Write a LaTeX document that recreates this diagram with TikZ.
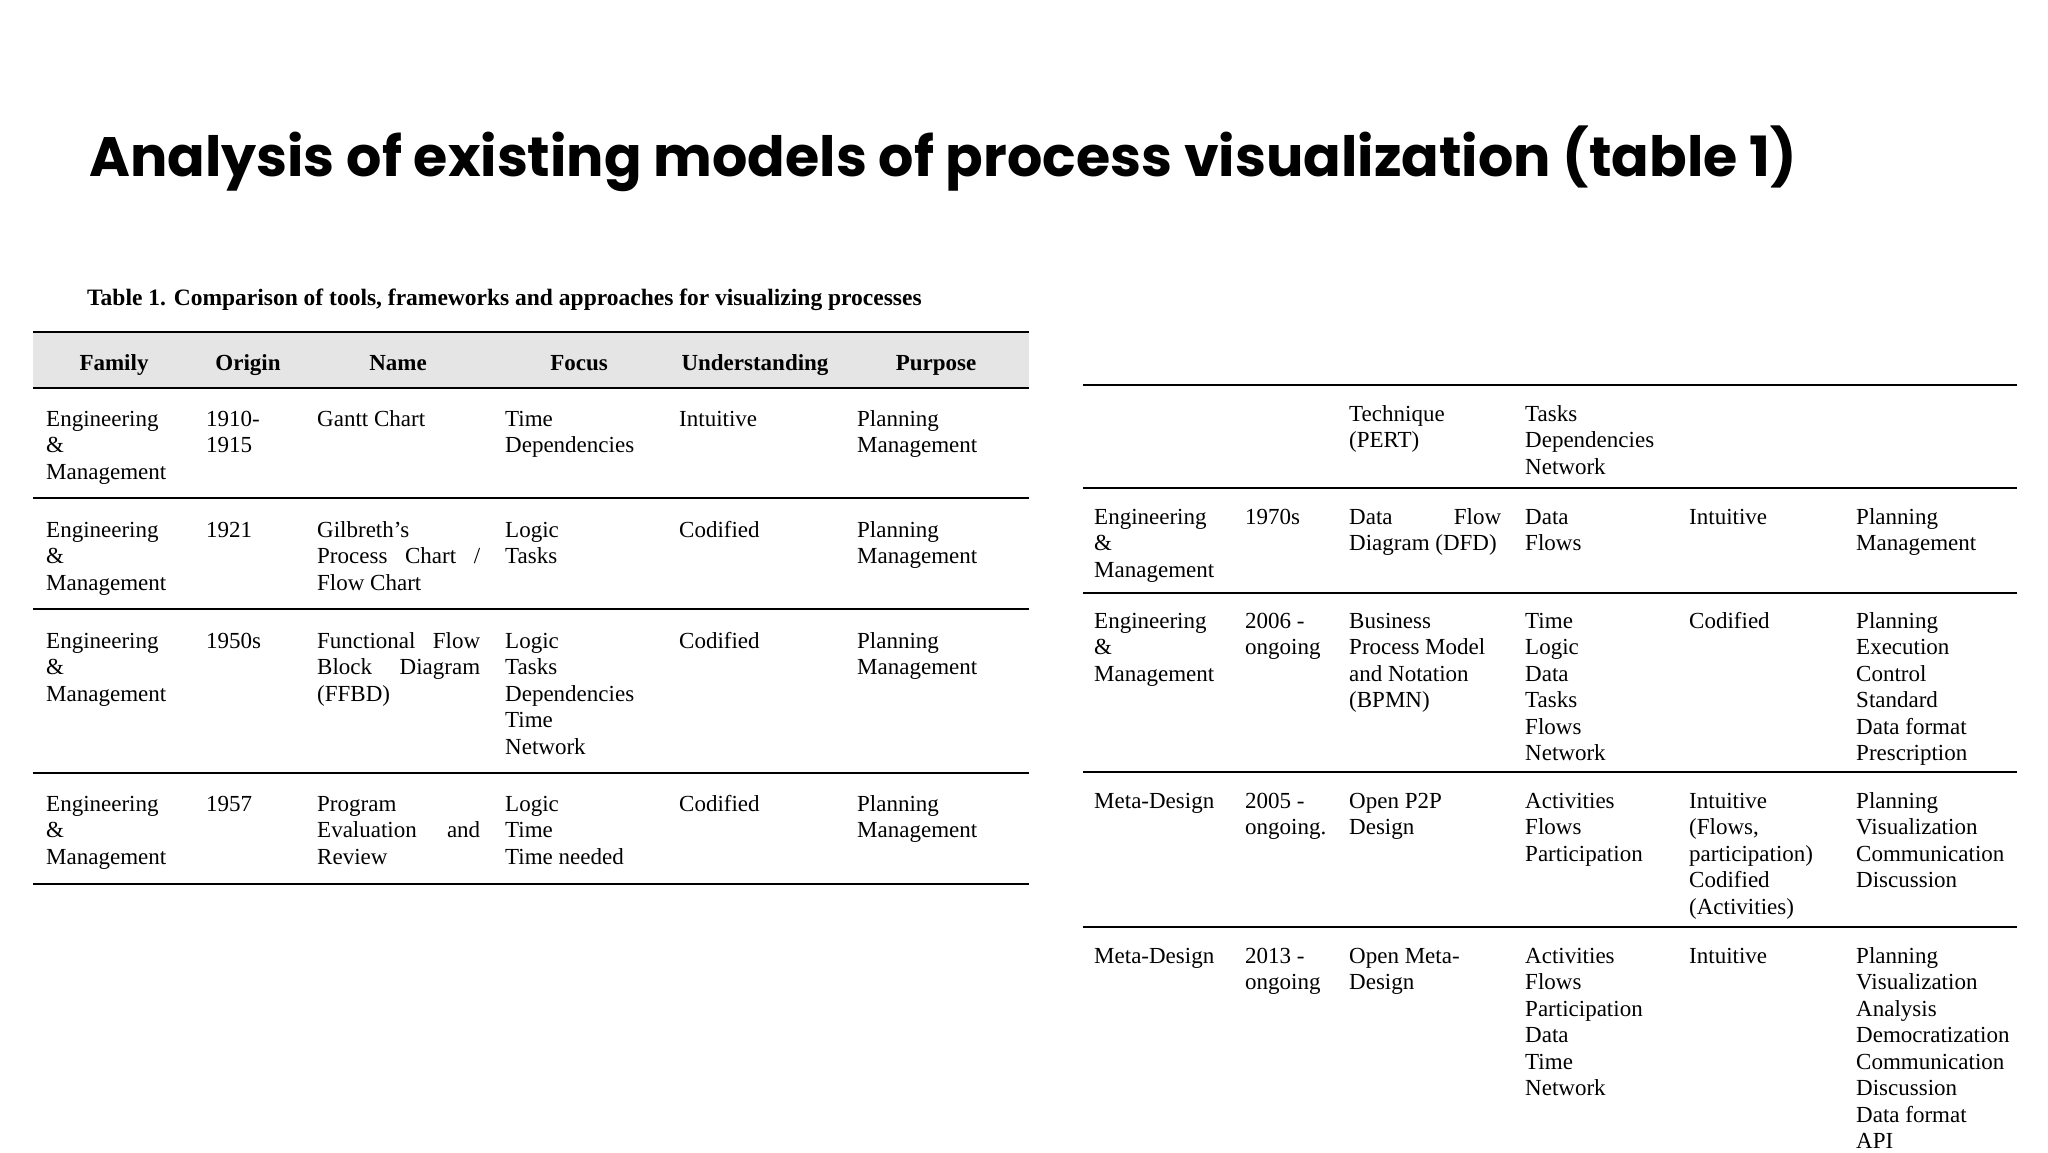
\documentclass[tikz,border=0pt]{standalone}
\usepackage{fontspec}
\setmainfont{Liberation Serif}
\newfontfamily\titlefont{Poppins}
\newcommand{\C}[3]{\node[anchor=base west,inner sep=0pt] at (#1,#2) {\begin{tabular}[t]{@{}l@{}}#3\end{tabular}};}
\newcommand{\Hd}[2]{\node[anchor=base,inner sep=0pt,font=\fontsize{23}{26.5}\selectfont\bfseries] at (#1,370) {#2};}
\begin{document}
\begin{tikzpicture}[x=1pt,y=-1pt,font=\fontsize{23}{26.5}\selectfont]
\useasboundingbox[fill=white] (0,0) rectangle (2048,1152);
\node[anchor=base west,inner sep=0pt,font=\titlefont\bfseries\fontsize{55.5}{60}\selectfont] (title) at (89,176) {Analysis of existing models of process visualization (table 1)};
\node[anchor=base west,inner sep=0pt,font=\bfseries\fontsize{23.5}{26}\selectfont] (cap) at (87,305) {Table 1. Comparison of tools, frameworks and approaches for visualizing processes};
% left table
\fill[black!10] (33,332) rectangle (1029,388);
\draw[line width=2.5pt] (33,332) -- (1029,332);
\draw[line width=2pt] (33,388) -- (1029,388);
\foreach \y in {498,609,773,884} \draw[line width=2pt] (33,\y) -- (1029,\y);
\Hd{114}{Family}\Hd{248}{Origin}\Hd{398}{Name}\Hd{579}{Focus}\Hd{755}{Understanding}\Hd{936}{Purpose}
\C{46}{426}{Engineering\\\&\\Management}
\C{206}{426}{1910-\\1915}
\C{317}{426}{Gantt Chart}
\C{505}{426}{Time\\Dependencies}
\C{679}{426}{Intuitive}
\C{857}{426}{Planning\\Management}
\C{46}{537}{Engineering\\\&\\Management}
\C{206}{537}{1921}
\C{317}{537}{Gilbreth's\\\makebox[163pt][s]{Process Chart /}\\Flow Chart}
\C{505}{537}{Logic\\Tasks}
\C{679}{537}{Codified}
\C{857}{537}{Planning\\Management}
\C{46}{648}{Engineering\\\&\\Management}
\C{206}{648}{1950s}
\C{317}{648}{\makebox[163pt][s]{Functional Flow}\\\makebox[163pt][s]{Block Diagram}\\(FFBD)}
\C{505}{648}{Logic\\Tasks\\Dependencies\\Time\\Network}
\C{679}{648}{Codified}
\C{857}{648}{Planning\\Management}
\C{46}{811}{Engineering\\\&\\Management}
\C{206}{811}{1957}
\C{317}{811}{Program\\\makebox[163pt][s]{Evaluation and}\\Review}
\C{505}{811}{Logic\\Time\\Time needed}
\C{679}{811}{Codified}
\C{857}{811}{Planning\\Management}
% right table
\foreach \y in {385,488,593,772,927} \draw[line width=2pt] (1083,\y) -- (2017,\y);
\C{1349}{421}{Technique\\(PERT)}
\C{1525}{421}{Tasks\\Dependencies\\Network}
\C{1094}{524}{Engineering\\\&\\Management}
\C{1245}{524}{1970s}
\C{1349}{524}{\makebox[152pt][s]{Data Flow}\\Diagram (DFD)}
\C{1525}{524}{Data\\Flows}
\C{1689}{524}{Intuitive}
\C{1856}{524}{Planning\\Management}
\C{1094}{628}{Engineering\\\&\\Management}
\C{1245}{628}{2006 -\\ongoing}
\C{1349}{628}{Business\\Process Model\\and Notation\\(BPMN)}
\C{1525}{628}{Time\\Logic\\Data\\Tasks\\Flows\\Network}
\C{1689}{628}{Codified}
\C{1856}{628}{Planning\\Execution\\Control\\Standard\\Data format\\Prescription}
\C{1094}{808}{Meta-Design}
\C{1245}{808}{2005 -\\ongoing.}
\C{1349}{808}{Open P2P\\Design}
\C{1525}{808}{Activities\\Flows\\Participation}
\C{1689}{808}{Intuitive\\(Flows,\\participation)\\Codified\\(Activities)}
\C{1856}{808}{Planning\\Visualization\\Communication\\Discussion}
\C{1094}{963}{Meta-Design}
\C{1245}{963}{2013 -\\ongoing}
\C{1349}{963}{Open Meta-\\Design}
\C{1525}{963}{Activities\\Flows\\Participation\\Data\\Time\\Network}
\C{1689}{963}{Intuitive}
\C{1856}{963}{Planning\\Visualization\\Analysis\\Democratization\\Communication\\Discussion\\Data format\\API}
\end{tikzpicture}
\end{document}
